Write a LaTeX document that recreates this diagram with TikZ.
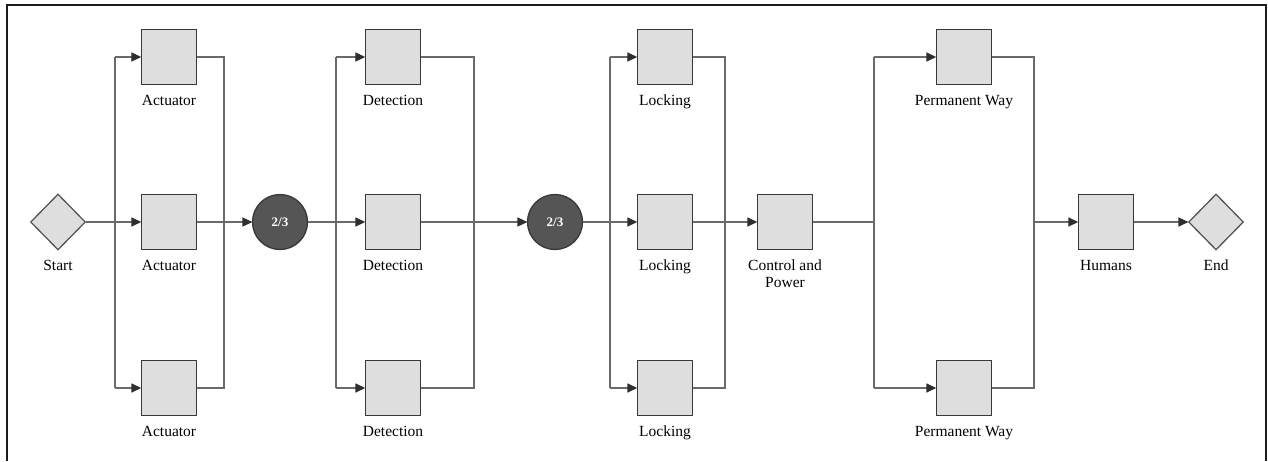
\documentclass[tikz,border=0pt]{standalone}
\usepackage{fontspec}
\setmainfont{Liberation Serif}
\usetikzlibrary{arrows.meta,shapes.geometric,calc}
\definecolor{boxfill}{HTML}{DEDEDE}
\definecolor{boxline}{HTML}{383838}
\definecolor{wire}{HTML}{6A6A6A}
\definecolor{tipcol}{HTML}{2E2E2E}
\definecolor{gatefill}{HTML}{555555}
\definecolor{framecol}{HTML}{1C1C1C}
\begin{document}
\begin{tikzpicture}[x=1pt,y=-1pt,
  blk/.style={draw=boxline,fill=boxfill,line width=1.6pt,minimum size=55pt,inner sep=0pt},
  dia/.style={diamond,draw=boxline!85,fill=boxfill,line width=1.3pt,minimum width=55pt,minimum height=56pt,inner sep=0pt},
  gate/.style={circle,draw=boxline,fill=gatefill,line width=1.3pt,minimum size=55pt,inner sep=0pt,text=white,font=\fontsize{13}{15}\selectfont\bfseries},
  lbl/.style={anchor=base,inner sep=0pt,font=\fontsize{15.5}{17.5}\selectfont,align=center},
  wireline/.style={draw=wire,line width=1.5pt},
  arr/.style={wireline,-{Triangle[length=10pt,width=9pt,color=tipcol]},shorten >=-0.6pt}]
\useasboundingbox (0,0) rectangle (1268,461);
\fill[white] (0,0) rectangle (1268,461);
\draw[framecol,line width=2.6pt] (7,461) -- (7,5) -- (1266,5) -- (1266,461);

% nodes
\node[dia] (start) at (58,222) {};
\node[lbl] at ($(start)+(0,48)$) {Start};

\foreach \n/\y in {1/57,2/222,3/388}{
  \node[blk] (a\n) at (169,\y) {};
  \node[lbl] at ($(a\n)+(0,48)$) {Actuator};
  \node[blk] (d\n) at (393,\y) {};
  \node[lbl] at ($(d\n)+(0,48)$) {Detection};
  \node[blk] (l\n) at (665,\y) {};
  \node[lbl] at ($(l\n)+(0,48)$) {Locking};
}
\node[gate] (g1) at (280,222) {2/3};
\node[gate] (g2) at (555,222) {2/3};
\node[blk] (cp) at (785,222) {};
\node[lbl] at ($(cp)+(0,65.5)$) {Control and\\Power};
\node[blk] (p1) at (964,57) {};
\node[lbl] at ($(p1)+(0,48)$) {Permanent Way};
\node[blk] (p2) at (964,388) {};
\node[lbl] at ($(p2)+(0,48)$) {Permanent Way};
\node[blk] (hu) at (1106,222) {};
\node[lbl] at ($(hu)+(0,48)$) {Humans};
\node[dia] (end) at (1216,222) {};
\node[lbl] at ($(end)+(0,48)$) {End};

% junction coordinates
\coordinate (s1t) at (115,57);  \coordinate (s1m) at (115,222); \coordinate (s1b) at (115,388);
\coordinate (m1t) at (224,57);  \coordinate (m1b) at (224,388);
\coordinate (s2t) at (336,57);  \coordinate (s2m) at (336,222); \coordinate (s2b) at (336,388);
\coordinate (m2t) at (474,57);  \coordinate (m2b) at (474,388);
\coordinate (s3t) at (610,57);  \coordinate (s3m) at (610,222); \coordinate (s3b) at (610,388);
\coordinate (m3t) at (725,57);  \coordinate (m3b) at (725,388);
\coordinate (s4t) at (874,57);  \coordinate (s4m) at (874,222); \coordinate (s4b) at (874,388);
\coordinate (m4t) at (1034,57); \coordinate (m4m) at (1034,222); \coordinate (m4b) at (1034,388);

% stage 1
\draw[wireline] (start.east) -- (s1m);
\draw[wireline] (s1t) -- (s1b);
\draw[arr] (s1t) -- (a1.west);
\draw[arr] (s1m) -- (a2.west);
\draw[arr] (s1b) -- (a3.west);
\draw[wireline] (a1.east) -- (m1t) -- (m1b) -- (a3.east);
\draw[arr] (a2.east) -- (g1.west);
% stage 2
\draw[wireline] (g1.east) -- (s2m);
\draw[wireline] (s2t) -- (s2b);
\draw[arr] (s2t) -- (d1.west);
\draw[arr] (s2m) -- (d2.west);
\draw[arr] (s2b) -- (d3.west);
\draw[wireline] (d1.east) -- (m2t) -- (m2b) -- (d3.east);
\draw[arr] (d2.east) -- (g2.west);
% stage 3
\draw[wireline] (g2.east) -- (s3m);
\draw[wireline] (s3t) -- (s3b);
\draw[arr] (s3t) -- (l1.west);
\draw[arr] (s3m) -- (l2.west);
\draw[arr] (s3b) -- (l3.west);
\draw[wireline] (l1.east) -- (m3t) -- (m3b) -- (l3.east);
\draw[arr] (l2.east) -- (cp.west);
% stage 4
\draw[wireline] (cp.east) -- (s4m);
\draw[wireline] (s4t) -- (s4b);
\draw[arr] (s4t) -- (p1.west);
\draw[arr] (s4b) -- (p2.west);
\draw[wireline] (p1.east) -- (m4t) -- (m4b) -- (p2.east);
\draw[arr] (m4m) -- (hu.west);
\draw[arr] (hu.east) -- (end.west);
\end{tikzpicture}
\end{document}
